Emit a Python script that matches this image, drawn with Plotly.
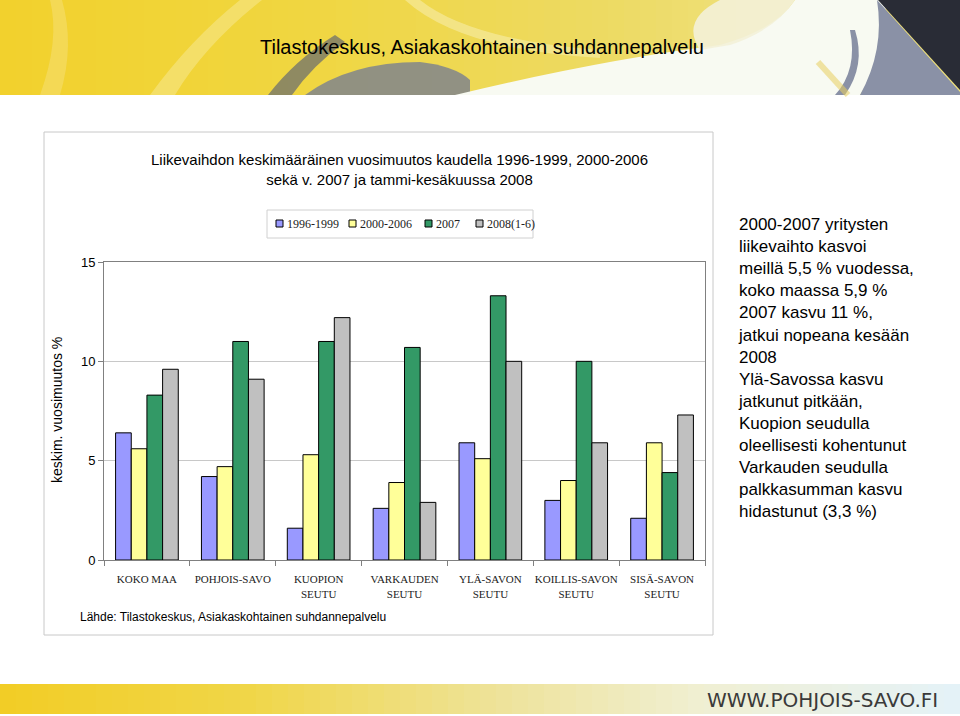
import plotly.graph_objects as go

# ---------------- data ----------------
categories = ["KOKO MAA", "POHJOIS-SAVO", "KUOPION<br>SEUTU", "VARKAUDEN<br>SEUTU",
              "YLÄ-SAVON<br>SEUTU", "KOILLIS-SAVON<br>SEUTU", "SISÄ-SAVON<br>SEUTU"]
series_names = ["1996-1999", "2000-2006", "2007", "2008(1-6)"]
v_1996_1999 = [6.4, 4.2, 1.6, 2.6, 5.9, 3.0, 2.1]
v_2000_2006 = [5.6, 4.7, 5.3, 3.9, 5.1, 4.0, 5.9]
v_2007 = [8.3, 11.0, 11.0, 10.7, 13.3, 10.0, 4.4]
v_2008 = [9.6, 9.1, 12.2, 2.9, 10.0, 5.9, 7.3]
y_ticks = [0, 5, 10, 15]

colors = ["#9999FF", "#FFFF99", "#339966", "#C0C0C0"]

W, H = 960, 716
ML, MR, MT, MB = 104, 255, 262, 156
PW, PH = W - ML - MR, H - MT - MB


def px(x):
    return (x - ML) / PW


def py(y):
    return (H - MB - y) / PH


fig = go.Figure()
for name, vals, col in zip(series_names, [v_1996_1999, v_2000_2006, v_2007, v_2008], colors):
    fig.add_trace(go.Bar(x=categories, y=vals, name=name, showlegend=False,
                         marker=dict(color=col, line=dict(color="#000000", width=1))))

shapes = []
annotations = []
# chart box
shapes.append(dict(type="rect", xref="paper", yref="paper", x0=px(44), x1=px(713), y0=py(132), y1=py(635),
                   line=dict(color="#C8C8C8", width=1), fillcolor="white", layer="below"))


def lerp(c1, c2, t):
    a = [int(c1[i:i + 2], 16) for i in (1, 3, 5)]
    b = [int(c2[i:i + 2], 16) for i in (1, 3, 5)]
    return "#" + "".join("%02X" % round(a[k] + (b[k] - a[k]) * t) for k in range(3))


def grad_strips(stops, y0, y1, n=60):
    out = []
    for i in range(n):
        x0 = W * i / n
        x1 = W * (i + 1) / n + 0.5
        xm = (x0 + x1) / 2
        c = stops[-1][1]
        for j in range(len(stops) - 1):
            if stops[j][0] <= xm <= stops[j + 1][0]:
                t = (xm - stops[j][0]) / (stops[j + 1][0] - stops[j][0])
                c = lerp(stops[j][1], stops[j + 1][1], t)
        out.append(dict(type="rect", xref="paper", yref="paper", x0=px(x0), x1=px(x1), y0=py(y0), y1=py(y1),
                        line=dict(width=0), fillcolor=c, layer="below"))
    return out


# top banner base with horizontal gradient
shapes += grad_strips([(0, "#F2D12C"), (300, "#F0D640"), (600, "#EDDA62"), (760, "#EEE07A"), (960, "#EEE07A")], 0, 95)


def path(pts_str):
    toks = pts_str.split()
    out = []
    i = 0
    while i < len(toks):
        t = toks[i]
        if t in ("M", "L", "Q", "Z"):
            out.append(t)
            i += 1
        else:
            x = float(toks[i]); y = float(toks[i + 1])
            out.append("%.5f,%.5f" % (px(x), py(y)))
            i += 2
    return " ".join(out)


def pshape(p, color, opacity=1.0):
    return dict(type="path", xref="paper", yref="paper", path=path(p), fillcolor=color, opacity=opacity,
                line=dict(width=0), layer="below")


# light streaks
shapes.append(pshape("M 150 95 Q 190 40 240 0 L 262 0 Q 205 45 175 95 Z", "#F6E688", 0.6))
shapes.append(pshape("M 40 95 Q 60 40 50 0 L 62 0 Q 75 45 60 95 Z", "#F6E07A", 0.5))
shapes.append(pshape("M 420 0 Q 470 40 600 50 L 600 58 Q 460 50 405 0 Z", "#F7EDA8", 0.6))
# gray swooshes
shapes.append(pshape("M 268 95 Q 295 60 335 35 L 345 42 Q 312 66 292 95 Z", "#77776A", 0.8))
shapes.append(pshape("M 305 95 Q 350 62 420 62 Q 455 66 470 80 L 470 95 Z", "#80858C", 0.85))
# white large swoosh / circle
shapes.append(pshape("M 455 95 Q 600 60 720 45 Q 775 30 795 0 L 885 0 Q 890 50 860 95 Z", "#F8FAF2"))
shapes.append(pshape("M 700 50 Q 680 20 720 0 L 795 0 Q 775 30 730 45 Z", "#F3F1D8", 0.9))
# gray region top-right
shapes.append(pshape("M 877 0 L 960 92 L 960 95 L 860 95 Q 885 50 877 0 Z", "#8A91A6"))
# gray thin arc
shapes.append(pshape("M 850 30 Q 858 70 835 95 L 845 95 Q 866 65 855 30 Z", "#8A91A6"))
# dark triangle
shapes.append(pshape("M 878 0 L 960 0 L 960 90 Z", "#292C36"))
# yellow streak bottom right
shapes.append(dict(type="line", xref="paper", yref="paper", x0=px(818), y0=py(62), x1=px(848), y1=py(95),
                   line=dict(color="#E9D060", width=6), opacity=0.55, layer="below"))

# bottom banner gradient
shapes += grad_strips([(0, "#F2CD25"), (250, "#F0D648"), (500, "#EEE39A"), (700, "#F0EFD2"), (960, "#E4F2F8")], 684, 714)

# custom legend (box, swatches, labels)
shapes.append(dict(type="rect", xref="paper", yref="paper", x0=px(267), x1=px(533), y0=py(210), y1=py(238),
                   line=dict(color="#D0D0D0", width=1), fillcolor="white", layer="below"))
legend_x = [276, 349, 425, 476]
for lx, name, col in zip(legend_x, series_names, colors):
    shapes.append(dict(type="rect", xref="paper", yref="paper", x0=px(lx), x1=px(lx + 7), y0=py(220), y1=py(227),
                       line=dict(color="#000000", width=1), fillcolor=col, layer="above"))
    annotations.append(dict(text=name, xref="paper", yref="paper", x=px(lx + 9), y=py(223.5),
                            xanchor="left", yanchor="middle", showarrow=False,
                            font=dict(family="Liberation Serif, Times New Roman", size=12, color="#222222")))

annotations.append(dict(text="Tilastokeskus, Asiakaskohtainen suhdannepalvelu", xref="paper", yref="paper",
                        x=px(482), y=py(47), xanchor="center", yanchor="middle", showarrow=False,
                        font=dict(family="Liberation Sans, Arial", size=20, color="#000000")))
annotations.append(dict(text="Liikevaihdon keskimääräinen vuosimuutos kaudella 1996-1999, 2000-2006<br>sekä v. 2007 ja tammi-kesäkuussa 2008",
                        xref="paper", yref="paper", x=px(399), y=py(169), xanchor="center", yanchor="middle",
                        showarrow=False, align="center",
                        font=dict(family="Liberation Sans, Arial", size=15, color="#000000")))
annotations.append(dict(text="keskim. vuosimuutos %", xref="paper", yref="paper", x=px(57), y=py(410),
                        xanchor="center", yanchor="middle", textangle=-90, showarrow=False,
                        font=dict(family="Liberation Sans, Arial", size=14, color="#000000")))
annotations.append(dict(text="Lähde: Tilastokeskus, Asiakaskohtainen suhdannepalvelu", xref="paper", yref="paper",
                        x=px(78), y=py(617), xanchor="left", yanchor="middle", showarrow=False,
                        font=dict(family="Liberation Sans, Arial", size=12, color="#000000")))
side_text = ("2000-2007 yritysten<br>liikevaihto kasvoi<br>meillä 5,5 % vuodessa,<br>koko maassa 5,9 %<br>"
             "2007 kasvu 11 %,<br>jatkui nopeana kesään<br>2008<br>Ylä-Savossa kasvu<br>jatkunut pitkään,<br>"
             "Kuopion seudulla<br>oleellisesti kohentunut<br>Varkauden seudulla<br>palkkasumman kasvu<br>hidastunut (3,3 %)")
annotations.append(dict(text=side_text, xref="paper", yref="paper", x=px(736), y=py(213),
                        xanchor="left", yanchor="top", align="left", showarrow=False,
                        font=dict(family="Liberation Sans, Arial", size=17, color="#000000")))
annotations.append(dict(text="WWW.POHJOIS-SAVO.FI", xref="paper", yref="paper", x=px(940), y=py(700),
                        xanchor="right", yanchor="middle", showarrow=False,
                        font=dict(family="DejaVu Sans, Lato", size=20, color="#3A3A3A")))

fig.update_layout(
    width=W, height=H,
    margin=dict(l=ML, r=MR, t=MT, b=MB, pad=0),
    paper_bgcolor="white", plot_bgcolor="rgba(0,0,0,0)",
    barmode="group", bargap=0.27, bargroupgap=0,
    showlegend=False,
    shapes=shapes,
    annotations=annotations,
    xaxis=dict(type="category", showline=True, linecolor="#808080", linewidth=1, mirror=True,
               ticks="outside", tickson="boundaries", ticklen=5, tickcolor="#808080", tickangle=0,
               ticklabelstandoff=9,
               tickfont=dict(family="Liberation Serif, Times New Roman", size=11, color="#222222"),
               showgrid=False, fixedrange=True),
    yaxis=dict(range=[0, 15], tickvals=y_ticks, showline=True, linecolor="#808080", linewidth=1, mirror=True,
               ticks="outside", ticklen=5, tickcolor="#808080", gridcolor="#C8C8C8", zeroline=False,
               tickfont=dict(family="Liberation Sans, Arial", size=13, color="#000000"),
               fixedrange=True),
)

fig.write_html("out.html")
